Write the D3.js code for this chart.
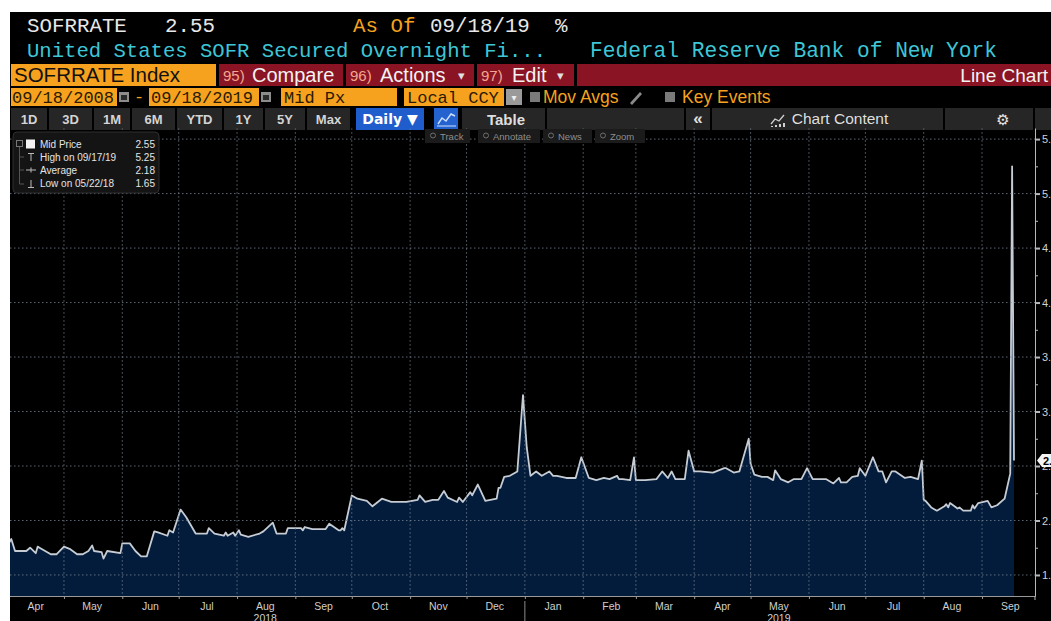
<!DOCTYPE html>
<html lang="en">
<head>
<meta charset="UTF-8">
<title>SOFRRATE Index - Line Chart</title>
<script src="https://d3js.org/d3.v7.min.js"></script>
<style>
  body { margin: 0; background: #fff; }
  svg { display: block; }
</style>
</head>
<body>
<script>
// SOFR daily fixings (key turning points)
const dates = [
  "2018-04-02","2018-04-03","2018-04-05","2018-04-11","2018-04-13","2018-04-16","2018-04-17","2018-04-18","2018-04-24","2018-04-27",
  "2018-05-01","2018-05-04","2018-05-08","2018-05-11","2018-05-14","2018-05-16","2018-05-17","2018-05-21","2018-05-22","2018-05-24","2018-05-31",
  "2018-06-01","2018-06-05","2018-06-08","2018-06-11","2018-06-14","2018-06-18","2018-06-20","2018-06-25","2018-06-26","2018-06-28",
  "2018-07-02","2018-07-05","2018-07-10","2018-07-16","2018-07-17","2018-07-20","2018-07-25","2018-07-26","2018-07-27","2018-07-30","2018-07-31",
  "2018-08-02","2018-08-03","2018-08-07","2018-08-13","2018-08-15","2018-08-20","2018-08-22","2018-08-27","2018-08-28",
  "2018-09-04","2018-09-05","2018-09-06","2018-09-10","2018-09-17","2018-09-19","2018-09-24","2018-09-25","2018-09-26","2018-09-27",
  "2018-10-01","2018-10-04","2018-10-09","2018-10-12","2018-10-17","2018-10-22","2018-10-30",
  "2018-11-05","2018-11-06","2018-11-09","2018-11-13","2018-11-16","2018-11-19","2018-11-21","2018-11-26","2018-11-27","2018-11-29",
  "2018-12-03","2018-12-04","2018-12-07","2018-12-11","2018-12-17","2018-12-18","2018-12-19","2018-12-21","2018-12-24","2018-12-28","2018-12-31",
  "2019-01-02","2019-01-04","2019-01-07","2019-01-10","2019-01-14","2019-01-16","2019-01-18","2019-01-23","2019-01-28","2019-01-31",
  "2019-02-04","2019-02-08","2019-02-12","2019-02-15","2019-02-19","2019-02-20","2019-02-22","2019-02-26","2019-02-28",
  "2019-03-01","2019-03-06","2019-03-12","2019-03-15","2019-03-18","2019-03-20","2019-03-22","2019-03-27","2019-03-29",
  "2019-04-01","2019-04-04","2019-04-11","2019-04-17","2019-04-18","2019-04-22","2019-04-25","2019-04-30",
  "2019-05-01","2019-05-03","2019-05-07","2019-05-10","2019-05-13","2019-05-14","2019-05-17","2019-05-21","2019-05-24","2019-05-28","2019-05-31",
  "2019-06-03","2019-06-10","2019-06-14","2019-06-17","2019-06-18","2019-06-21","2019-06-24","2019-06-27","2019-06-28",
  "2019-07-01","2019-07-05","2019-07-08","2019-07-10","2019-07-12","2019-07-15","2019-07-17","2019-07-22","2019-07-25","2019-07-29","2019-07-31",
  "2019-08-01","2019-08-02","2019-08-05","2019-08-08","2019-08-12","2019-08-13","2019-08-14","2019-08-15","2019-08-19","2019-08-20","2019-08-22","2019-08-26","2019-08-27","2019-08-28","2019-08-30",
  "2019-09-04","2019-09-06","2019-09-09","2019-09-13","2019-09-16","2019-09-17","2019-09-18"
];
const rates = [
  1.80,1.83,1.72,1.72,1.75,1.70,1.76,1.75,1.69,1.69,
  1.76,1.74,1.69,1.69,1.72,1.77,1.72,1.71,1.65,1.72,1.70,
  1.79,1.79,1.72,1.67,1.67,1.90,1.89,1.86,1.91,1.89,
  2.10,2.03,1.88,1.88,1.93,1.88,1.86,1.89,1.86,1.89,1.86,
  1.91,1.87,1.85,1.88,1.90,1.98,1.88,1.88,1.93,
  1.93,1.91,1.94,1.92,1.92,1.97,1.91,1.91,1.93,1.91,
  2.23,2.20,2.18,2.13,2.20,2.17,2.17,
  2.19,2.23,2.17,2.19,2.19,2.27,2.21,2.17,2.21,2.17,
  2.26,2.23,2.33,2.18,2.20,2.30,2.30,2.40,2.41,2.45,3.15,
  2.67,2.41,2.45,2.41,2.45,2.41,2.41,2.39,2.39,2.58,
  2.39,2.37,2.39,2.38,2.41,2.38,2.38,2.37,2.58,
  2.37,2.37,2.38,2.45,2.39,2.45,2.38,2.38,2.64,
  2.45,2.45,2.44,2.48,2.48,2.44,2.45,2.75,
  2.52,2.42,2.40,2.40,2.37,2.46,2.38,2.35,2.38,2.38,2.48,
  2.38,2.38,2.34,2.39,2.35,2.35,2.40,2.41,2.48,
  2.41,2.58,2.45,2.45,2.35,2.45,2.45,2.39,2.40,2.38,2.55,
  2.19,2.18,2.12,2.09,2.13,2.15,2.12,2.16,2.11,2.12,2.09,2.09,2.14,2.11,2.16,
  2.18,2.12,2.14,2.20,2.43,5.25,2.55
];
const yTicks = [1.5, 2, 2.5, 3, 3.5, 4, 4.5, 5, 5.5];
const monthLabels = ["Apr","May","Jun","Jul","Aug","Sep","Oct","Nov","Dec","Jan","Feb","Mar","Apr","May","Jun","Jul","Aug","Sep"];
const yearLabels = ["2018", "2019"];
const legendNames = ["Mid Price", "High on 09/17/19", "Average", "Low on 05/22/18"];
const legendValues = ["2.55", "5.25", "2.18", "1.65"];
const lastPrice = 2.55;
const rangeButtons = ["1D","3D","1M","6M","YTD","1Y","5Y","Max"];

const W = 1051, H = 621;
const MONO = "'Liberation Mono','DejaVu Sans Mono',monospace";
const SANS = "'Liberation Sans',Arial,sans-serif";
const ORANGE = "#f6a21e", RED = "#8a1424", CYAN = "#3ec6d6";

const svg = d3.select("body").append("svg").attr("width", W).attr("height", H);
svg.append("rect").attr("x", 10).attr("y", 12).attr("width", W - 10).attr("height", H - 12).attr("fill", "#000");

function box(x, y, w, h, fill) {
  return svg.append("rect").attr("x", x).attr("y", y).attr("width", w).attr("height", h).attr("fill", fill);
}
function label(x, y, str, size, fill, family, anchor, weight) {
  return svg.append("text").attr("x", x).attr("y", y).text(str)
    .attr("font-size", size).attr("fill", fill).attr("font-family", family || SANS)
    .attr("text-anchor", anchor || "start").attr("font-weight", weight || "normal");
}

// ---- header lines
label(27, 32, "SOFRRATE", 20.8, "#e8e8e8", MONO);
label(165, 32, "2.55", 20.8, "#e8e8e8", MONO);
label(353, 32, "As Of", 20.8, ORANGE, MONO);
label(430, 32, "09/18/19", 20.8, "#e8e8e8", MONO);
label(555, 32, "%", 20.8, "#e8e8e8", MONO);
label(27, 57, "United States SOFR Secured Overnight Fi...", 20.6, CYAN, MONO);
label(590, 57, "Federal Reserve Bank of New York", 21.2, CYAN, MONO);

// row 3: ticker + action menus
box(11, 64, 205, 22, ORANGE);
label(14, 82, "SOFRRATE Index", 20.5, "#111");
box(219, 64, 124, 22, RED);
label(223, 81, "95)", 15, "#f3a78e");
label(252, 82, "Compare", 20, "#f2f2f2");
box(346, 64, 128, 22, RED);
label(350, 81, "96)", 15, "#f3a78e");
label(380, 82, "Actions", 20, "#f2f2f2");
label(458, 80, "▾", 13, "#e0e0e0", "DejaVu Sans");
box(477, 64, 97, 22, RED);
label(481, 81, "97)", 15, "#f3a78e");
label(512, 82, "Edit", 20, "#f2f2f2");
label(557, 80, "▾", 13, "#e0e0e0", "DejaVu Sans");
box(577, 64, W - 577, 22, RED);
label(1048, 82, "Line Chart", 19, "#f2f2f2", SANS, "end");

// row 4: date range / fields
function calIcon(x) {
  box(x, 92, 10, 10, "#8c8c8c");
  box(x + 2, 95, 6, 5, "#2a2a2a");
}
box(11, 88, 106, 18, ORANGE);
label(12, 103, "09/18/2008", 17, "#2a1a00", MONO);
calIcon(119);
label(134, 102, "-", 17, ORANGE, MONO);
box(149, 88, 110, 18, ORANGE);
label(151, 103, "09/18/2019", 17, "#2a1a00", MONO);
calIcon(261);
box(281, 88, 116, 18, ORANGE);
label(284, 103, "Mid Px", 17, "#2a1a00", MONO);
box(404, 88, 100, 18, ORANGE);
label(407, 103, "Local CCY", 17, "#2a1a00", MONO);
box(506, 89, 16, 16, "#9a9a9a");
label(514, 101, "▾", 10, "#eee", "DejaVu Sans", "middle");
box(530, 92, 10, 10, "#7a7a7a");
label(543, 103, "Mov Avgs", 17.5, ORANGE);
svg.append("path").attr("d", "M630,103 L640,92 L642,94 L632,105 Z").attr("fill", "#8a8a8a");
box(665, 92, 10, 10, "#7a7a7a");
label(682, 103, "Key Events", 17.5, ORANGE);

// row 5: range buttons
const btnEdges = [[11,47],[49,92],[94,130],[132,175],[177,222],[224,263],[265,305],[307,350]];
rangeButtons.forEach((b, i) => {
  const [a, e] = btnEdges[i];
  box(a, 108, e - a, 22, "#262626");
  label((a + e) / 2, 124, b, 13, "#d4d4d4", SANS, "middle", "bold");
});
box(356, 108, 68, 22, "#1f5ccc");
label(390, 124, "Daily ▼", 14, "#fff", "'DejaVu Sans',sans-serif", "middle", "bold");
box(434, 108, 24, 22, "#2462cf");
svg.append("polyline").attr("points", "438,124 442,118 446,121 451,114 455,116")
  .attr("fill", "none").attr("stroke", "#cfe0ff").attr("stroke-width", 1.4);
svg.append("line").attr("x1", 437).attr("x2", 456).attr("y1", 126).attr("y2", 126).attr("stroke", "#cfe0ff");
box(462, 108, 83, 22, "#262626");
label(506, 125, "Table", 15, "#dedede", SANS, "middle", "bold");
box(547, 108, 137, 22, "#262626");
box(686, 108, 24, 22, "#262626");
label(698, 124, "«", 17, "#e0e0e0", SANS, "middle", "bold");
box(712, 108, 231, 22, "#262626");
svg.append("polyline").attr("points", "771,124 775,119 779,121 784,115").attr("fill", "none").attr("stroke", "#cfcfcf").attr("stroke-width", 1.3);
[772, 776, 780, 784].forEach((px, i) => box(px - 1, 126 - i, 2, i + 1, "#cfcfcf"));
label(840, 124, "Chart Content", 15.5, "#dedede", SANS, "middle");
box(945, 108, 88, 22, "#262626");
label(1003, 125, "⚙", 15, "#e6e6e6", "'DejaVu Sans',sans-serif", "middle");
box(1035, 108, 16, 22, "#262626");

// ---- plot
const parse = d3.utcParse("%Y-%m-%d");
const series = dates.map((d, i) => ({ date: parse(d), value: rates[i] }));
const PLOT_L = 10, PLOT_R = 1035, PLOT_T = 128.2, PLOT_B = 596;
const x = d3.scaleUtc().domain(d3.extent(series, d => d.date)).range([9.4, 1014]);
const y = d3.scaleLinear().domain([1.307, 5.6]).range([PLOT_B, PLOT_T]);

svg.append("clipPath").attr("id", "plotclip").append("rect")
  .attr("x", PLOT_L).attr("y", PLOT_T).attr("width", PLOT_R - PLOT_L).attr("height", PLOT_B - PLOT_T);
const plot = svg.append("g").attr("clip-path", "url(#plotclip)");

const area = d3.area().x(d => x(d.date)).y0(PLOT_B).y1(d => y(d.value));
const line = d3.line().x(d => x(d.date)).y(d => y(d.value));
plot.append("path").datum(series).attr("d", area).attr("fill", "#041c3b");
plot.append("path").datum(series).attr("d", line).attr("fill", "none")
  .attr("stroke", "#c6ccd4").attr("stroke-width", 1.8).attr("stroke-linejoin", "round");

// dotted grid
const monthStarts = d3.utcMonth.range(d3.utcMonth.ceil(x.domain()[0]), x.domain()[1]);
plot.selectAll(".vgrid").data(monthStarts).enter().append("line")
  .attr("x1", d => x(d)).attr("x2", d => x(d)).attr("y1", PLOT_T).attr("y2", PLOT_B)
  .attr("stroke", "#75828f").attr("stroke-opacity", 0.8).attr("stroke-dasharray", "1.5,2.5");
plot.selectAll(".hgrid").data(yTicks).enter().append("line")
  .attr("x1", PLOT_L).attr("x2", PLOT_R).attr("y1", d => y(d)).attr("y2", d => y(d))
  .attr("stroke", "#75828f").attr("stroke-opacity", 0.8).attr("stroke-dasharray", "1.5,2.5");

// right axis
const minorTicks = d3.range(1.75, 5.6, 0.5);
const yMinor = svg.append("g").attr("transform", `translate(${PLOT_R},0)`)
  .call(d3.axisRight(y).tickValues(minorTicks).tickFormat("").tickSize(3).tickSizeOuter(0));
const yAxis = svg.append("g").attr("transform", `translate(${PLOT_R},0)`)
  .call(d3.axisRight(y).tickValues(yTicks).tickFormat(d3.format(".1f")).tickSize(5).tickPadding(2).tickSizeOuter(0));
[yMinor, yAxis].forEach(g => {
  g.selectAll("path,line").attr("stroke", "#b8b8b8");
  g.selectAll("text").attr("fill", "#d0d0d0").attr("font-size", 11).attr("font-family", SANS);
});
yAxis.selectAll(".tick line").attr("stroke-width", 2);

// last price tag
const ty = y(lastPrice);
svg.append("path")
  .attr("d", `M1037,${ty} L1042,${ty - 6.5} L1052,${ty - 6.5} L1052,${ty + 6.5} L1042,${ty + 6.5} Z`)
  .attr("fill", "#f4f4f4");
label(1043, ty + 4, lastPrice.toFixed(2), 11, "#000", SANS, "start", "bold");

// bottom axis
const xAxis = svg.append("g").attr("transform", `translate(0,${PLOT_B})`)
  .call(d3.axisBottom(x).tickValues(monthStarts).tickFormat("").tickSize(3).tickSizeOuter(0));
xAxis.select(".domain").attr("d", `M${PLOT_L},0.5H${PLOT_R}`);
xAxis.selectAll("path,line").attr("stroke", "#9a9a9a");

const months = d3.utcMonth.range(d3.utcMonth.floor(x.domain()[0]), x.domain()[1]);
const mids = months.map(m => d3.utcDay.offset(m, 15));
svg.selectAll(".mlab").data(mids).enter().append("text")
  .attr("x", d => x(d)).attr("y", 610).attr("text-anchor", "middle")
  .attr("font-size", 10.5).attr("font-family", SANS).attr("fill", "#cfcfcf")
  .text((d, i) => monthLabels[i]);
yearLabels.forEach(yr => {
  const inYear = mids.filter(d => d.getUTCFullYear() === +yr);
  const mid = inYear[Math.floor(inYear.length / 2)];
  label(x(mid), 622, yr, 10.5, "#cfcfcf", SANS, "middle");
});
svg.append("line").attr("x1", x(parse("2019-01-01"))).attr("x2", x(parse("2019-01-01")))
  .attr("y1", 601).attr("y2", 621).attr("stroke", "#8a8a8a");
svg.append("line").attr("x1", PLOT_R).attr("x2", PLOT_R).attr("y1", PLOT_B).attr("y2", 600).attr("stroke", "#b8b8b8");

// chart toolbar
const tools = [["Track", 425, 45], ["Annotate", 478, 62], ["News", 543, 49], ["Zoom", 595, 50]];
tools.forEach(([name, tx, tw]) => {
  box(tx, 129, tw, 14, "#1b1b1b");
  label(tx + 15, 139.5, name, 9.5, "#8e8e8e");
  svg.append("circle").attr("cx", tx + 8).attr("cy", 135.5).attr("r", 2.5).attr("fill", "none").attr("stroke", "#6e6e6e");
});

// legend
const lg = svg.append("g");
lg.append("rect").attr("x", 13).attr("y", 132).attr("width", 146).attr("height", 61)
  .attr("rx", 4).attr("fill", "#141414").attr("stroke", "#2e2e2e");
lg.append("rect").attr("x", 16.5).attr("y", 140.5).attr("width", 6).attr("height", 6).attr("fill", "none").attr("stroke", "#777");
lg.append("line").attr("x1", 19.5).attr("x2", 19.5).attr("y1", 147).attr("y2", 184).attr("stroke", "#555");
[157, 170, 184].forEach(by => lg.append("line").attr("x1", 19.5).attr("x2", 24).attr("y1", by).attr("y2", by).attr("stroke", "#555"));
lg.append("rect").attr("x", 26).attr("y", 139.5).attr("width", 9).attr("height", 9).attr("fill", "#f4f4f4");
lg.append("path").attr("d", "M28,153.5H34M31,153.5V161").attr("stroke", "#bbb");
lg.append("path").attr("d", "M26,170H36M31,167.5V172.5").attr("stroke", "#bbb");
lg.append("path").attr("d", "M31,180V187M28,187.5H34").attr("stroke", "#bbb");
lg.selectAll(".lname").data(legendNames).enter().append("text")
  .attr("x", 40).attr("y", (d, i) => 147.5 + i * 13.3)
  .attr("font-size", 10).attr("font-family", SANS).attr("fill", "#e4e4e4").text(d => d);
lg.selectAll(".lval").data(legendValues).enter().append("text")
  .attr("x", 155).attr("y", (d, i) => 147.5 + i * 13.3).attr("text-anchor", "end")
  .attr("font-size", 10).attr("font-family", SANS).attr("fill", "#e4e4e4").text(d => d);
</script>
</body>
</html>
